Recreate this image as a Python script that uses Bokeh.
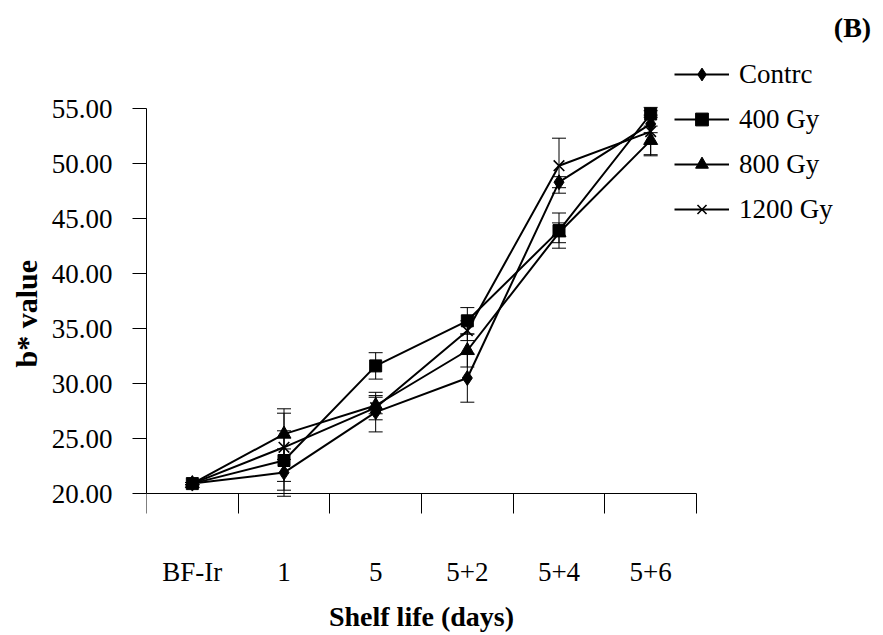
from bokeh.plotting import figure
from bokeh.models import (ColumnDataSource, Whisker, TeeHead, Legend, LegendItem,
                          FixedTicker, LinearAxis, Label, Range1d, PrintfTickFormatter,
                          Title)
from bokeh.embed import file_html
from bokeh.resources import INLINE

# ---- data ----
categories = ["BF-Ir", "1", "5", "5+2", "5+4", "5+6"]
series_names = ["Contrc", "400 Gy", "800 Gy", "1200 Gy"]
control = [20.9, 21.9, 27.4, 30.5, 48.3, 53.6]
gy400 = [20.9, 23.0, 31.6, 35.7, 43.9, 54.5]
gy800 = [20.9, 25.4, 28.0, 33.0, 43.7, 52.1]
gy1200 = [20.9, 24.2, 27.8, 34.8, 49.8, 52.9]
control_err = [0.1, 2.15, 1.8, 2.2, 0.5, 0.8]
gy400_err = [0.1, 2.7, 1.2, 1.2, 1.6, 0.3]
gy800_err = [0.1, 2.3, 0.75, 1.5, 0.9, 1.3]
gy1200_err = [0.1, 3.1, 1.1, 0.9, 2.5, 2.2]
y_ticks = [20, 25, 30, 35, 40, 45, 50, 55]
x_title = "Shelf life (days)"
y_title = "b* value"

values = [control, gy400, gy800, gy1200]
errors = [control_err, gy400_err, gy800_err, gy1200_err]
markers = ["diamond", "square", "triangle", "x"]
sizes = [15, 12, 14, 15]

FONT = "Liberation Serif"
n = len(categories)
xs = list(range(n))

# ---- layout geometry (pixels) ----
W, H = 883, 635
AX_LEFT, AX_RIGHT = 146, 696      # x extent of the category axis
AX_TOP, AX_BOTTOM = 108, 493      # y extent of the value axis
px_per_x = (AX_RIGHT - AX_LEFT) / n
px_per_y = (AX_BOTTOM - AX_TOP) / (y_ticks[-1] - y_ticks[0])
x_start = -0.5
x_end = x_start + (W - AX_LEFT) / px_per_x
y_start = y_ticks[0] - (H - AX_BOTTOM) / px_per_y
y_end = y_start + H / px_per_y

p = figure(width=W, height=H, output_backend="svg", toolbar_location=None,
           x_range=Range1d(x_start, x_end), y_range=Range1d(y_start, y_end),
           min_border_left=AX_LEFT, min_border_right=0, min_border_top=0,
           min_border_bottom=0, x_axis_location=None, y_axis_location=None)
p.grid.visible = False
p.outline_line_color = None
p.background_fill_color = "white"
p.border_fill_color = "white"

# x axis: drawn at y = 20; boundary ticks as minor ticks, labels at category centres
xaxis = LinearAxis(
    fixed_location=y_ticks[0],
    bounds=(-0.5, n - 0.5),
    ticker=FixedTicker(ticks=xs, minor_ticks=[i - 0.5 for i in range(n + 1)]),
    major_label_overrides={i: c for i, c in enumerate(categories)},
    major_tick_out=0, major_tick_in=0,
    minor_tick_out=20, minor_tick_in=0,
    minor_tick_line_color="black", axis_line_color="black",
    major_label_standoff=43,
    major_label_text_font=FONT, major_label_text_font_size="27px",
    major_label_text_color="black",
)
p.add_layout(xaxis, "below")

p.add_layout(Label(x=(n - 1) / 2, y=19, x_units="data", y_units="screen",
                   text=x_title, text_align="center", text_baseline="middle",
                   text_font=FONT, text_font_size="28px", text_font_style="bold",
                   text_color="black"))

yaxis = LinearAxis(
    bounds=(y_ticks[0], y_ticks[-1]),
    ticker=FixedTicker(ticks=y_ticks, minor_ticks=[]),
    formatter=PrintfTickFormatter(format="%.2f"),
    major_tick_out=14, major_tick_in=0, minor_tick_out=0, minor_tick_in=0,
    major_tick_line_color="black", axis_line_color="black",
    major_label_standoff=20,
    major_label_text_font=FONT, major_label_text_font_size="27px",
    major_label_text_color="black",
)
p.add_layout(yaxis, "left")
p.add_layout(Title(text=y_title, align="left", offset=126 + (H - AX_BOTTOM), standoff=9,
                   vertical_align="middle",
                   text_font=FONT, text_font_size="30px", text_font_style="bold",
                   text_color="black"), "left")

items = []
for name, vals, errs, mk, sz in zip(series_names, values, errors, markers, sizes):
    src = ColumnDataSource(dict(
        x=xs, y=vals,
        upper=[v + e for v, e in zip(vals, errs)],
        lower=[v - e for v, e in zip(vals, errs)],
    ))
    w = Whisker(source=src, base="x", upper="upper", lower="lower",
                dimension="height", line_color="black", line_width=1,
                upper_head=TeeHead(size=14, line_color="black", line_width=1),
                lower_head=TeeHead(size=14, line_color="black", line_width=1))
    p.add_layout(w)
    lr = p.line("x", "y", source=src, line_color="black", line_width=2)
    sr = p.scatter("x", "y", source=src, marker=mk, size=sz,
                   fill_color="black", line_color="black",
                   line_width=1.6 if mk == "x" else 1)
    items.append(LegendItem(label=name, renderers=[lr, sr]))

legend = Legend(items=items, location=(528, 268 + (H - AX_BOTTOM)), orientation="vertical",
                glyph_width=55, glyph_height=32, label_standoff=10, spacing=13,
                padding=0, margin=0, border_line_color=None,
                background_fill_alpha=0,
                label_text_font=FONT, label_text_font_size="27px",
                label_text_color="black")
p.add_layout(legend)

tag = Label(x=706, y=466 + (H - AX_BOTTOM), x_units="screen", y_units="screen", text="(B)",
            text_font=FONT, text_font_size="28px", text_font_style="bold",
            text_align="center", text_baseline="middle", text_color="black")
p.add_layout(tag)

open("out.html", "w").write(file_html(p, INLINE))
